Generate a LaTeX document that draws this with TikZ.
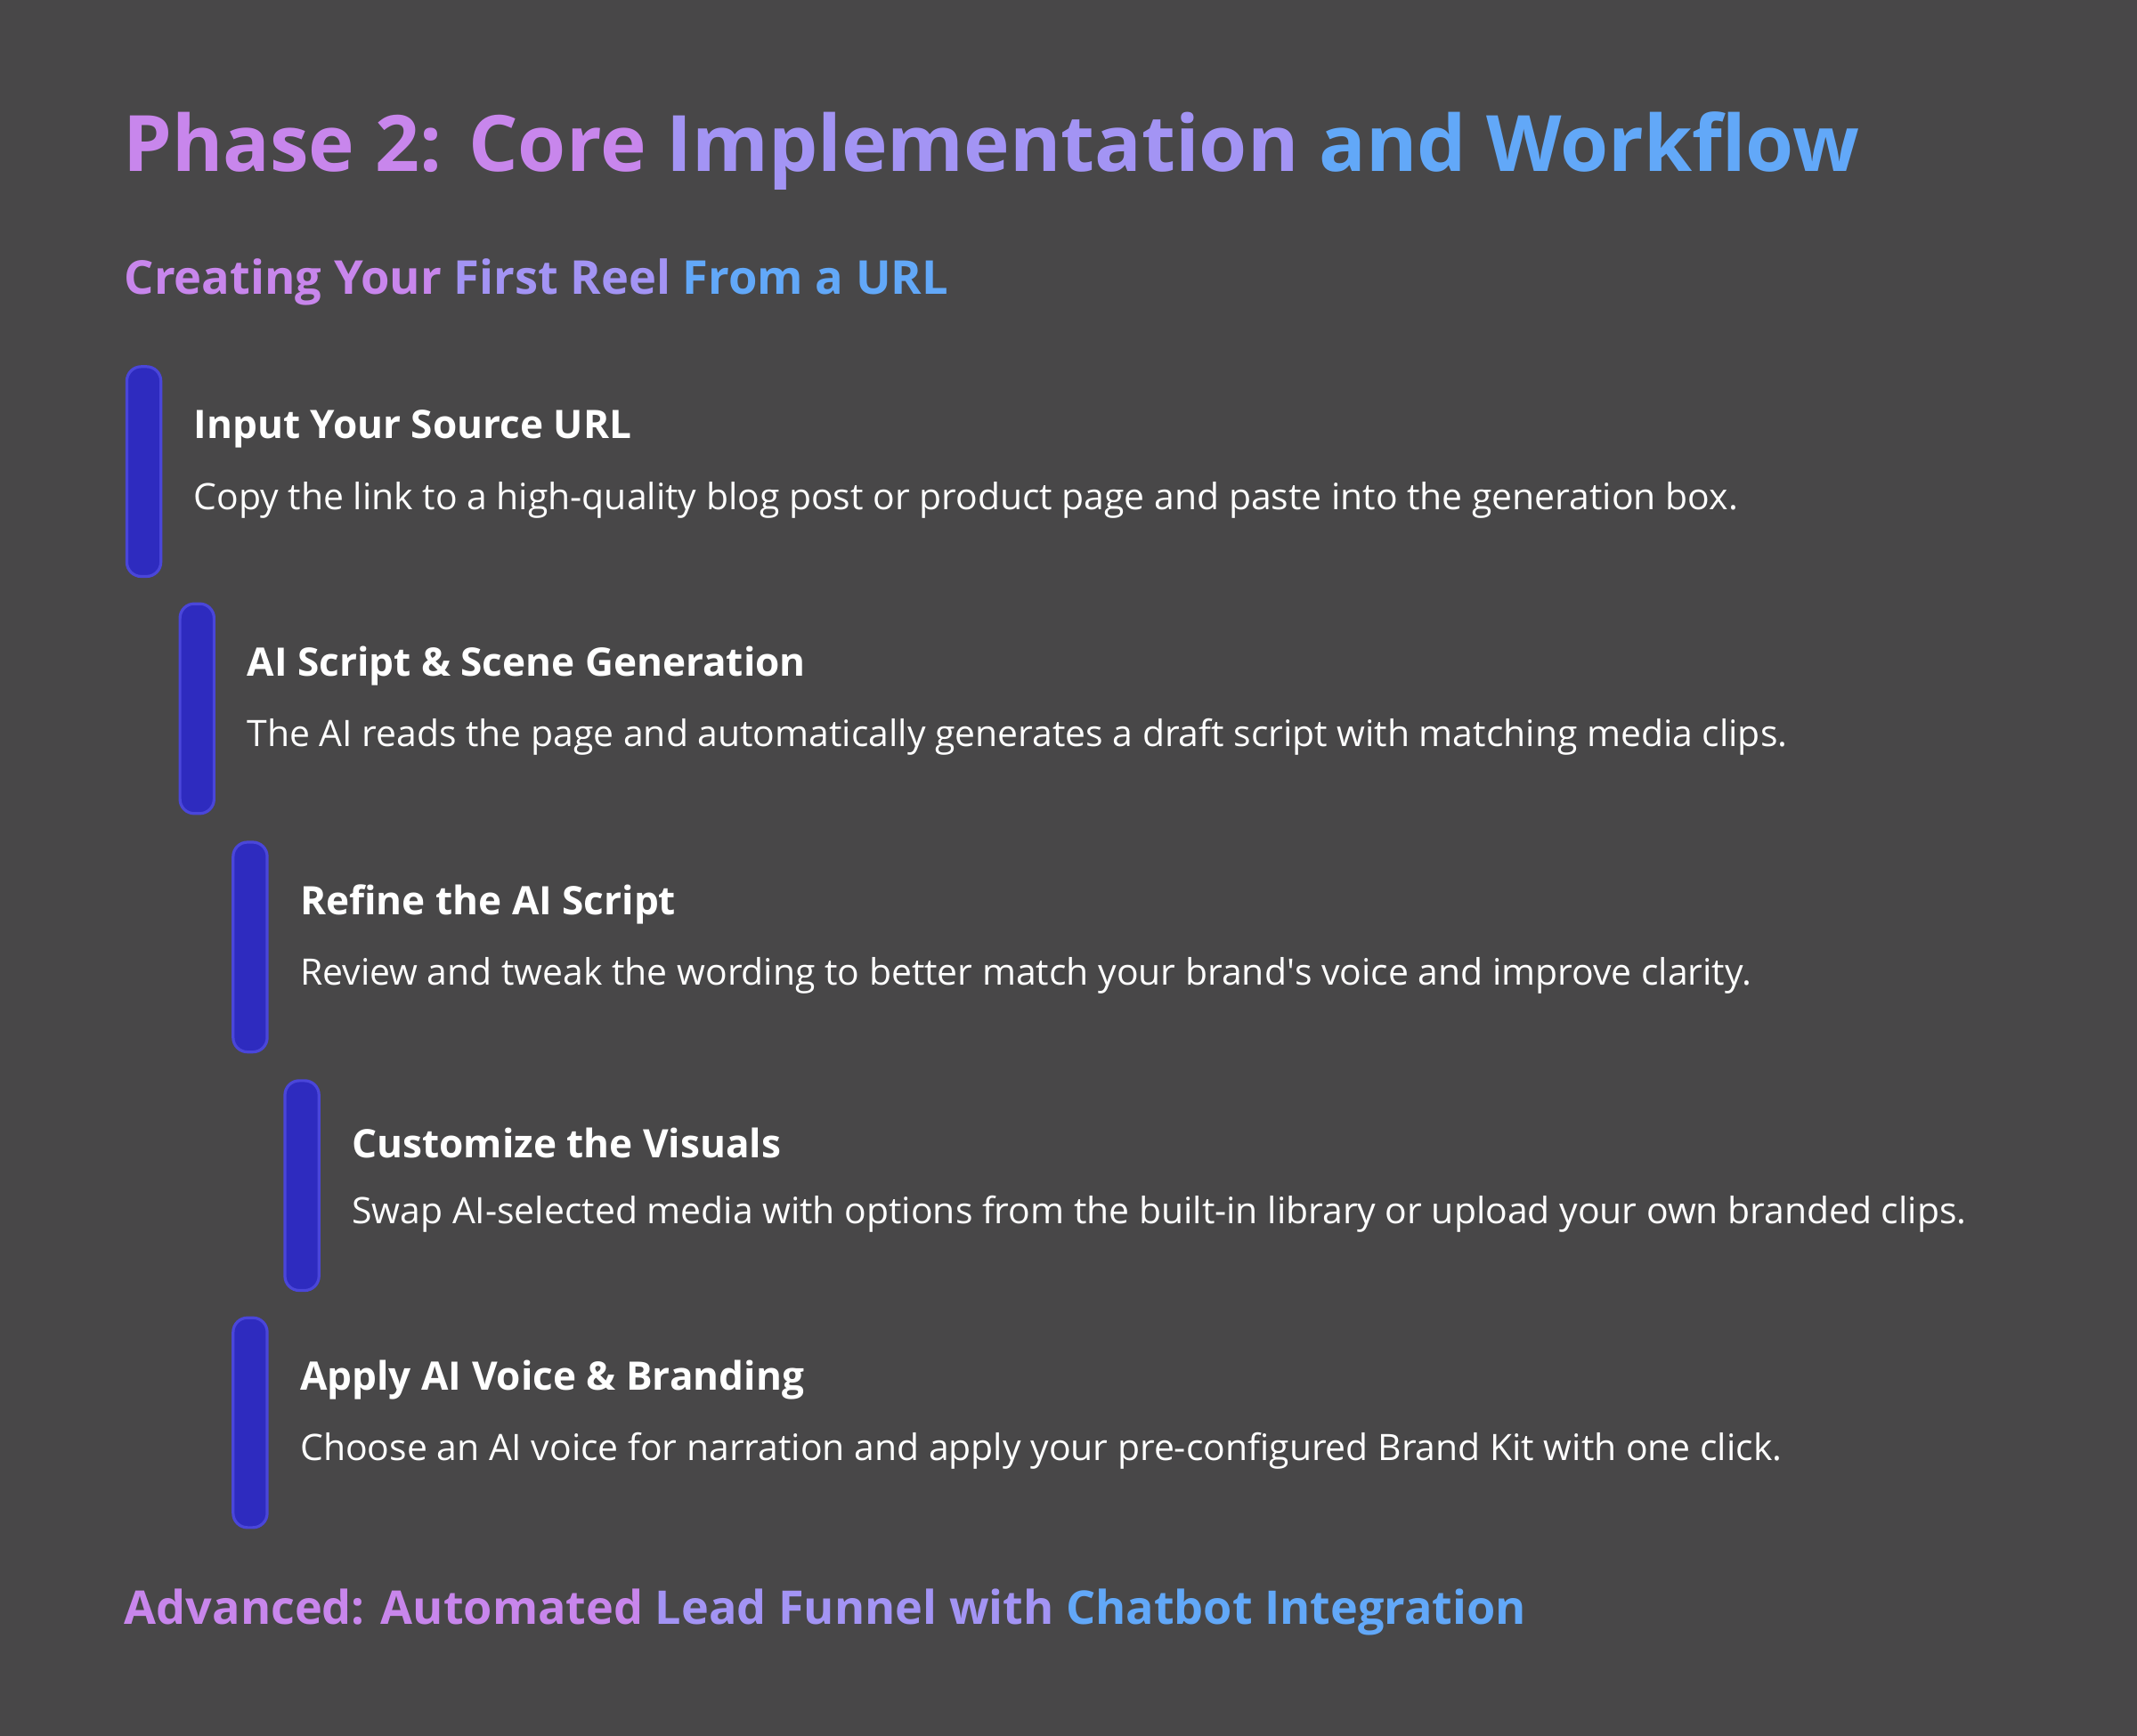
\documentclass[tikz,border=0pt]{standalone}
\usepackage{fontspec}
\setmainfont{Open Sans}
\definecolor{bgc}{HTML}{484748}
\definecolor{pinkc}{HTML}{C886EC}
\definecolor{purpc}{HTML}{A394F4}
\definecolor{bluec}{HTML}{62A8F8}
\definecolor{barc}{HTML}{2E2BBF}
\definecolor{barb}{HTML}{4A46DA}
\tikzset{
  stepbar/.style={draw=barb, line width=1.2pt, fill=barc, rounded corners=6pt, minimum width=0.5cm, minimum height=3.08cm, anchor=north west, inner sep=0pt},
  steptitle/.style={anchor=west, text=white, font=\fontsize{16.4}{18}\selectfont\bfseries, inner sep=0pt},
  steptext/.style={anchor=west, text=white, font=\fontsize{15.2}{17}\selectfont, inner sep=0pt}
}
\begin{document}
\begin{tikzpicture}[x=0.02cm,y=-0.02cm]
    % background
    \fill[bgc] (0,0) rectangle (1568,1274);
    \useasboundingbox (0,0) rectangle (1568,1274);
    % headings
    \node[anchor=west, inner sep=0pt, font=\fontsize{32.5}{36}\selectfont\bfseries] (title) at (90,111)
        {\textcolor{pinkc}{Phase 2: Core} \textcolor{purpc}{Implementation} \textcolor{bluec}{and Workflow}};
    \node[anchor=west, inner sep=0pt, font=\fontsize{19.5}{22}\selectfont\bfseries] (sub) at (91,207)
        {\textcolor{pinkc}{Creating Your} \textcolor{purpc}{First Reel} \textcolor{bluec}{From a URL}};
    % steps
    \foreach \n/\x/\y/\head/\body in {
        1/92/268/Input Your Source URL/Copy the link to a high-quality blog post or product page and paste into the generation box.,
        2/131/442/AI Script \& Scene Generation/The AI reads the page and automatically generates a draft script with matching media clips.,
        3/170/617/Refine the AI Script/Review and tweak the wording to better match your brand\textquotesingle s voice and improve clarity.,
        4/208/792/Customize the Visuals/Swap AI-selected media with options from the built-in library or upload your own branded clips.,
        5/170/966/Apply AI Voice \& Branding/Choose an AI voice for narration and apply your pre-configured Brand Kit with one click.}{
        \node[stepbar] (bar\n) at (\x,\y) {};
        \node[steptitle] (head\n) at (\x+50,\y+47) {\head};
        \node[steptext] (body\n) at (\x+50,\y+99) {\body};
    }
    % footer heading
    \node[anchor=west, inner sep=0pt, font=\fontsize{19.4}{22}\selectfont\bfseries] (adv) at (91,1183)
        {\textcolor{pinkc}{Advanced: Automated} \textcolor{purpc}{Lead Funnel with} \textcolor{bluec}{Chatbot Integration}};
\end{tikzpicture}
\end{document}
